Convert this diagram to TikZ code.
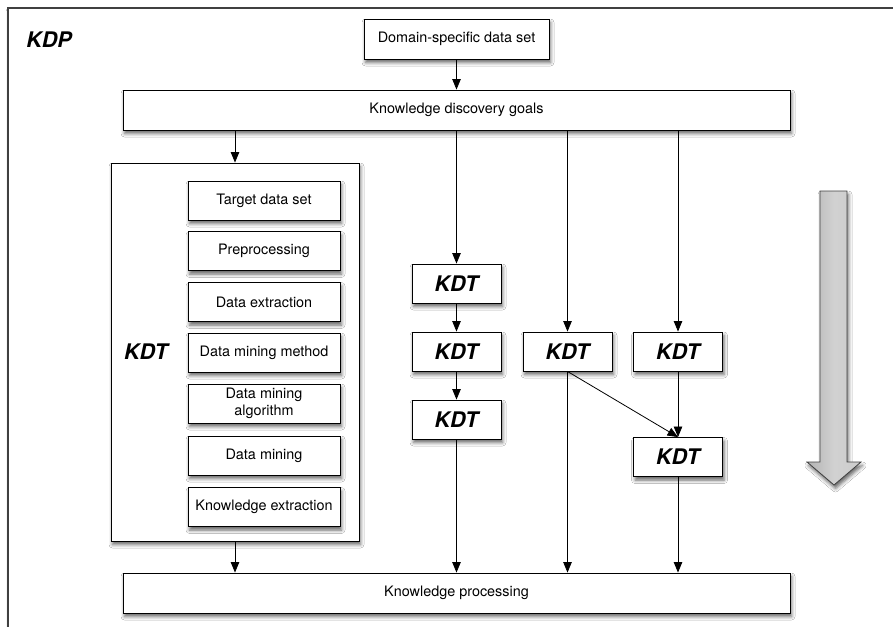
\documentclass[tikz,border=0pt]{standalone}
\usepackage{fontspec}
\setmainfont{TeX Gyre Heros}
\usetikzlibrary{arrows.meta,shadows.blur}
\begin{document}
\begin{tikzpicture}[x=1pt,y=-1pt,
  every node/.style={font=\fontsize{14.4}{17}\selectfont},
  soft/.style={blur shadow={shadow xshift=1.5pt, shadow yshift=-3.5pt,
      shadow blur radius=3.5pt, shadow opacity=60}},
  box/.style={soft, draw=black, line width=0.9pt, fill=white,
      inner sep=0pt, align=center},
  wide/.style={box, minimum width=667pt, minimum height=40pt},
  stepbox/.style={box, minimum width=152pt, minimum height=39pt},
  kdtbox/.style={box, minimum width=89pt, minimum height=39pt,
      font=\bfseries\itshape\fontsize{21.5}{24}\selectfont},
  biglabel/.style={inner sep=0pt,
      font=\bfseries\itshape\fontsize{21.5}{24}\selectfont},
  arr/.style={draw=black, line width=0.8pt,
      -{Triangle[length=10.5pt,width=8.5pt]}},
  link/.style={draw=black, line width=0.8pt}
]
\useasboundingbox (0,0) rectangle (893,626);
\fill[white] (0,0) rectangle (893,626);

% outer process frame
\draw[soft, draw=black!75, line width=1.2pt, fill=white]
  (8,8) rectangle (910,650);
\node[biglabel] (kdp) at (49,40) {KDP};

% top and bottom stages
\node[box, minimum width=185pt, minimum height=40pt] (dom) at (456.5,39)
  {Domain-specific data set};
\node[wide] (goals) at (456.5,110) {Knowledge discovery goals};
\node[wide] (proc) at (456.5,593) {Knowledge processing};

% detailed task container
\node[box, minimum width=248pt, minimum height=378pt] (cont) at (235,352) {};
\node[biglabel] (kdtl) at (146,352) {KDT};
\node[stepbox] (s1) at (264,200.5) {Target data set};
\node[stepbox] (s2) at (264,251) {Preprocessing};
\node[stepbox] (s3) at (264,302) {Data extraction};
\node[stepbox] (s4) at (264,352.5) {Data mining method};
\node[stepbox] (s5) at (264,403.5) {Data mining\\algorithm};
\node[stepbox] (s6) at (264,455.5) {Data mining};
\node[stepbox] (s7) at (264,507) {Knowledge extraction};

% task chains
\node[kdtbox] (m1) at (456.5,283.5) {KDT};
\node[kdtbox] (m2) at (456.5,351.5) {KDT};
\node[kdtbox] (m3) at (456.5,419.5) {KDT};
\node[kdtbox] (c2) at (567.5,351.5) {KDT};
\node[kdtbox] (c3) at (678,351.5) {KDT};
\node[kdtbox] (c4) at (678,457) {KDT};

% connectors
\draw[arr] (dom) -- (goals);
\draw[arr] (goals.south -| cont.north) -- (cont.north);
\draw[arr] (goals.south -| m1.north) -- (m1);
\draw[arr] (m1) -- (m2);
\draw[arr] (m2) -- (m3);
\draw[arr] (goals.south -| c2.north) -- (c2);
\draw[arr] (goals.south -| c3.north) -- (c3);
\draw[arr] (c3) -- (c4);
\draw[arr] (c2.south) -- (c4.north);
\draw[arr] (cont.south) -- (cont.south |- proc.north);
\draw[arr] (m3.south) -- (m3.south |- proc.north);
\draw[arr] (c2.south) -- (c2.south |- proc.north);
\draw[arr] (c4.south) -- (c4.south |- proc.north);

% flow direction arrow
\draw[soft, draw=black!75, line width=0.8pt, left color=black!30,
      right color=black!20, middle color=black!18]
  (820,191) -- (847,191) -- (847,462) -- (861,462) -- (834,485)
  -- (807,462) -- (820,462) -- cycle;
\end{tikzpicture}
\end{document}
